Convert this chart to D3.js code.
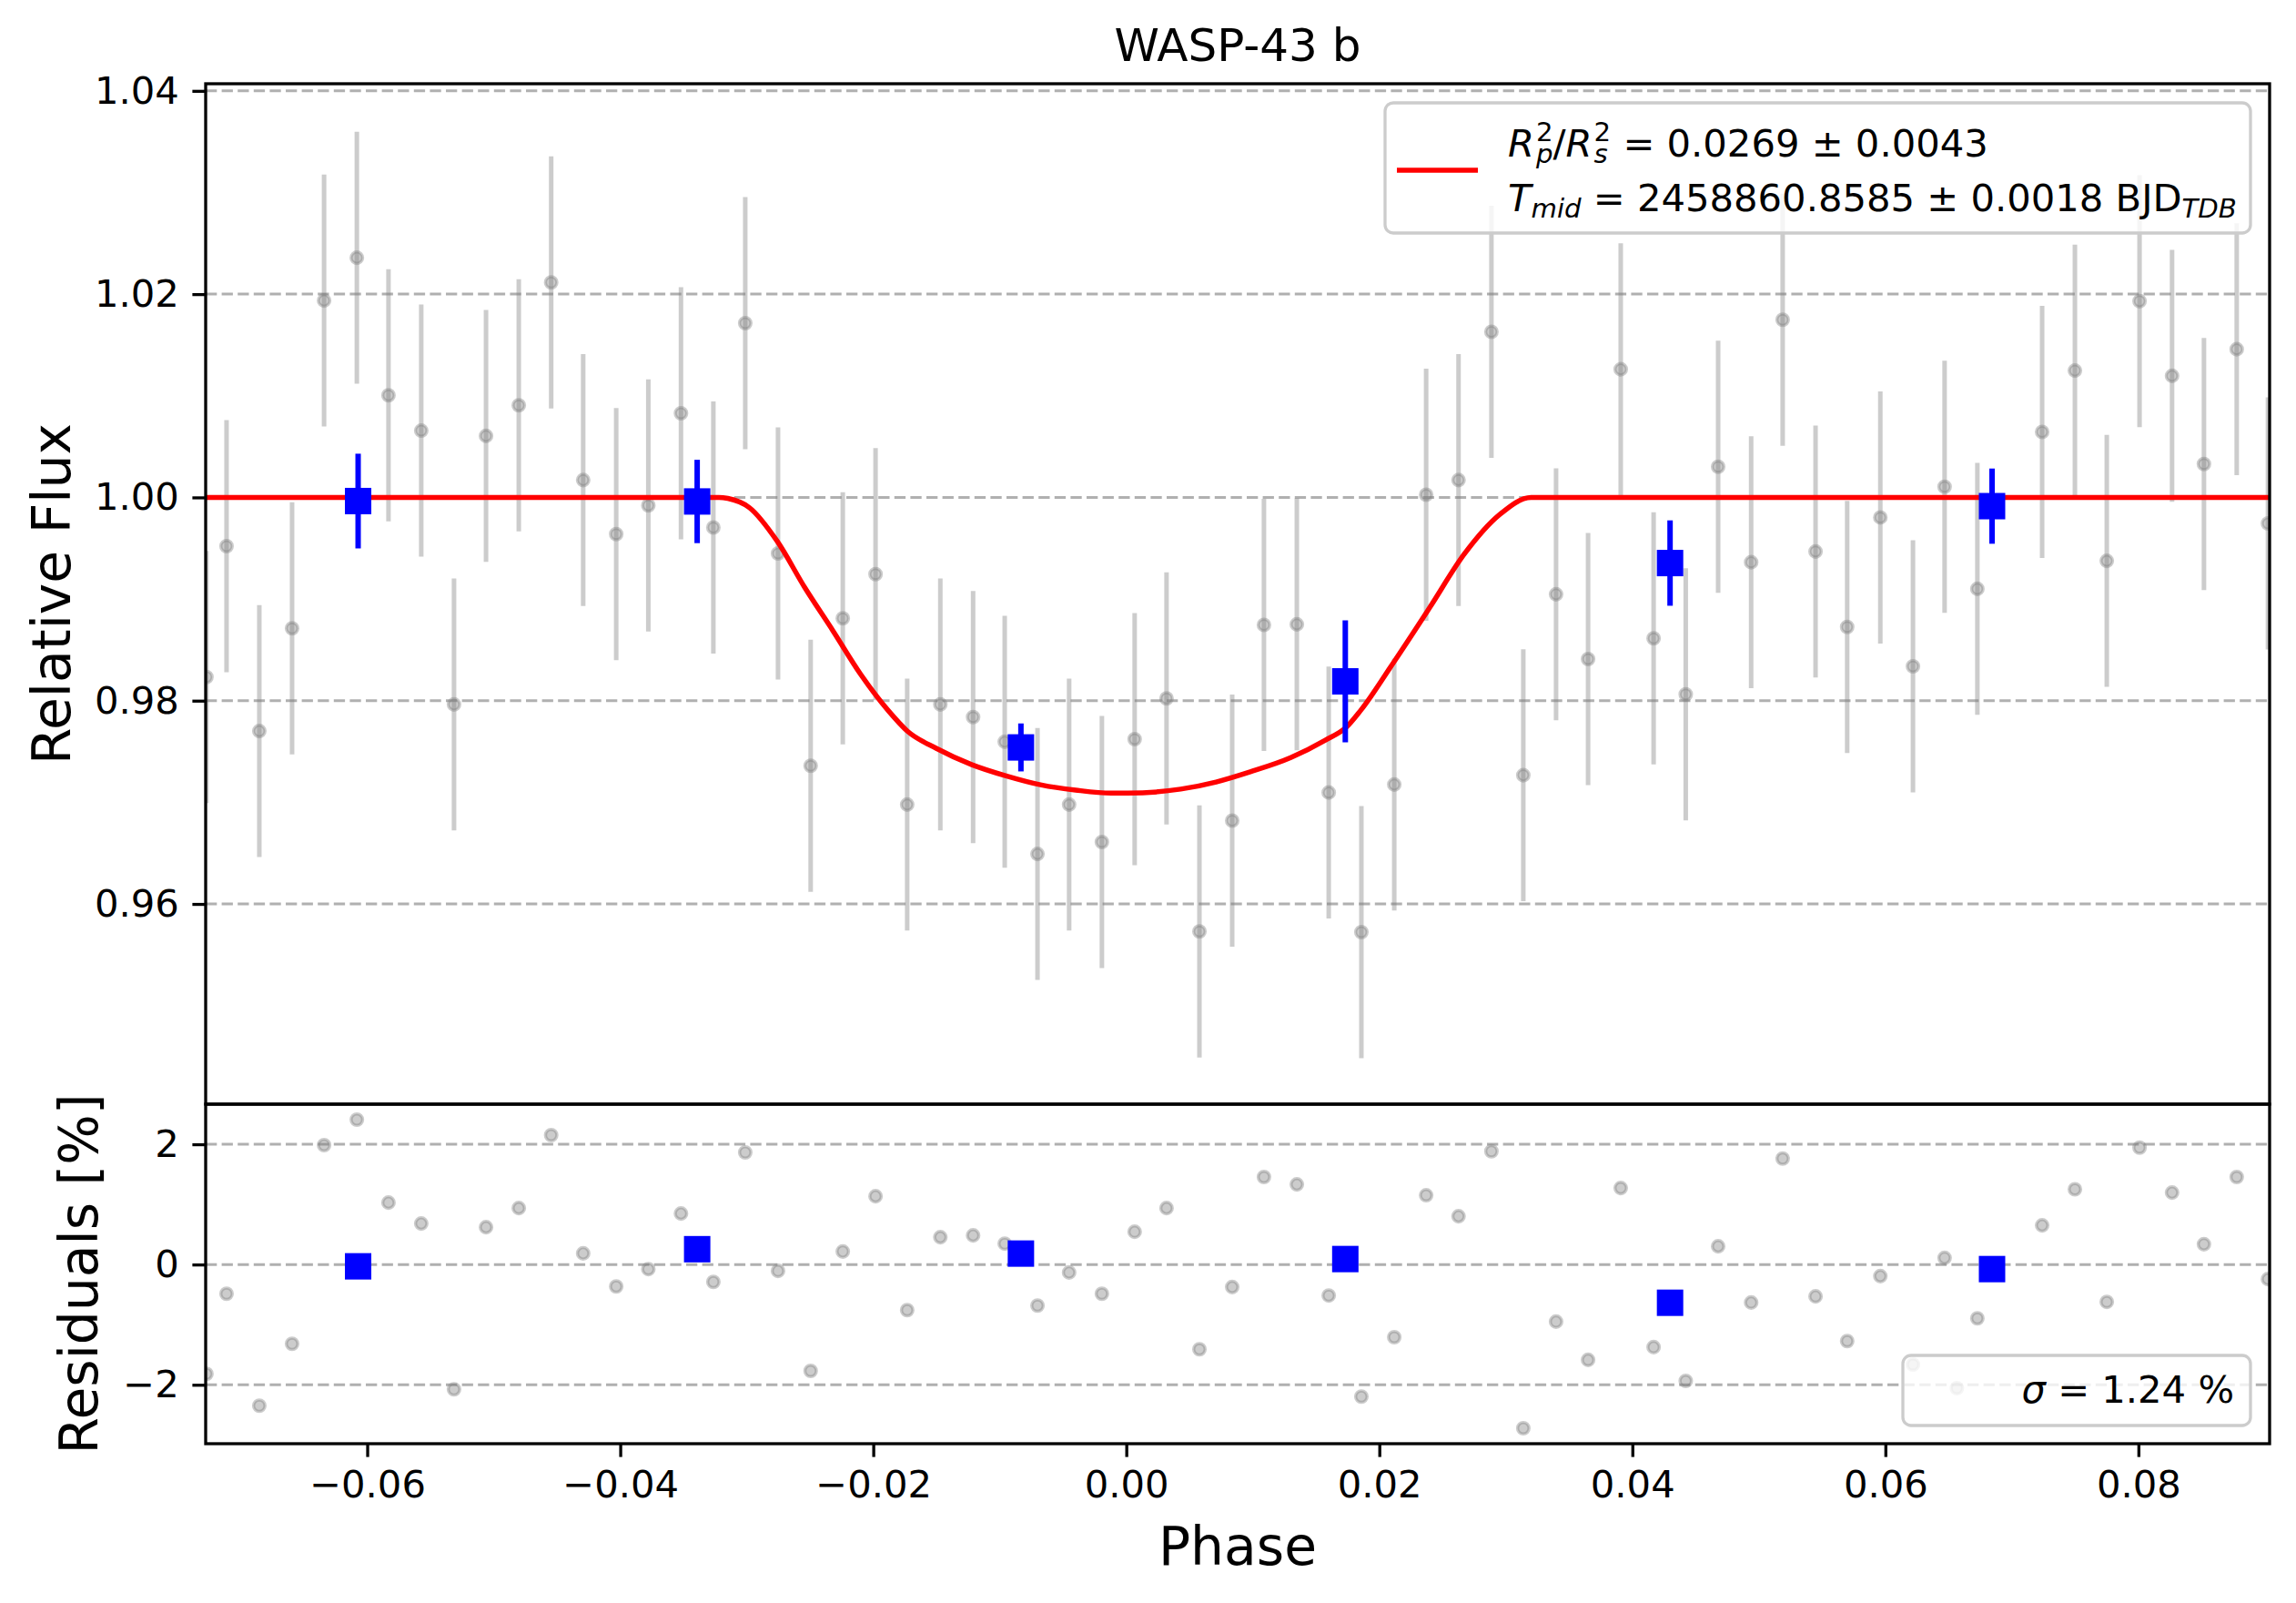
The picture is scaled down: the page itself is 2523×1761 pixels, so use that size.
<!DOCTYPE html>
<html>
<head>
<meta charset="utf-8">
<script src="https://cdn.jsdelivr.net/npm/d3@7"></script>
<style>
  body { margin: 0; background: #fff; }
  text { font-family: "DejaVu Sans", sans-serif; white-space: pre; }
</style>
</head>
<body>
<svg id="chart" width="2523" height="1761"></svg>
<script>
// unbinned phase / relative flux
const phase = [
  -0.07271, -0.07112, -0.06853, -0.06594, -0.06341, -0.06082, -0.05832, -0.05573,
  -0.05314, -0.05061, -0.04802, -0.04546, -0.04293, -0.04032, -0.03778, -0.03520,
  -0.03264, -0.03012, -0.02753, -0.02495, -0.02241, -0.01982, -0.01732, -0.01470,
  -0.01211, -0.00961, -0.00702, -0.00452, -0.00193, 0.00066, 0.00318, 0.00578,
  0.00837, 0.01088, 0.01348, 0.01600, 0.01858, 0.02118, 0.02370, 0.02626,
  0.02886, 0.03138, 0.03397, 0.03650, 0.03908, 0.04168, 0.04422, 0.04678,
  0.04939, 0.05188, 0.05448, 0.05698, 0.05960, 0.06218, 0.06468, 0.06727,
  0.07239, 0.07498, 0.07750, 0.08009, 0.08266, 0.08518, 0.08777, 0.09024
];
const flux = [
  0.98233, 0.99520, 0.97701, 0.98712, 1.01937, 1.02358, 1.01005, 1.00657,
  0.97963, 1.00605, 1.00906, 1.02115, 1.00171, 0.99639, 0.99921, 1.00828,
  0.99704, 1.01714, 0.99448, 0.97359, 0.98811, 0.99245, 0.96978, 0.97963,
  0.97839, 0.97596, 0.96492, 0.96978, 0.96610, 0.97622, 0.98022, 0.95730,
  0.96820, 0.98745, 0.98751, 0.97096, 0.95723, 0.97175, 1.00026, 1.00171,
  1.01629, 0.97267, 0.99047, 0.98410, 1.01261, 0.98613, 0.98062, 1.00302,
  0.99362, 1.01748, 0.99468, 0.98725, 0.99803, 0.98338, 1.00105, 0.99100,
  1.00644, 1.01248, 0.99376, 1.01931, 1.01196, 1.00329, 1.01458, 0.99744
];
// every unbinned point has the same error bar
const fluxErr = 0.0124;

// residuals [%]
const residPhase = [
  -0.07271, -0.07112, -0.06853, -0.06594, -0.06341, -0.06082, -0.05832, -0.05573,
  -0.05314, -0.05061, -0.04802, -0.04546, -0.04293, -0.04032, -0.03778, -0.03520,
  -0.03264, -0.03012, -0.02753, -0.02495, -0.02241, -0.01982, -0.01732, -0.01470,
  -0.01211, -0.00961, -0.00702, -0.00452, -0.00193, 0.00066, 0.00318, 0.00578,
  0.00837, 0.01088, 0.01348, 0.01600, 0.01858, 0.02118, 0.02370, 0.02626,
  0.02886, 0.03138, 0.03397, 0.03650, 0.03908, 0.04168, 0.04422, 0.04678,
  0.04939, 0.05188, 0.05448, 0.05698, 0.05960, 0.06218, 0.06468, 0.06565,
  0.06727, 0.07239, 0.07498, 0.07750, 0.08009, 0.08266, 0.08518, 0.08777, 0.09024
];
const resid = [
  -1.818, -0.485, -2.348, -1.318, 1.985, 2.409, 1.030, 0.682,
  -2.076, 0.621, 0.939, 2.152, 0.186, -0.364, -0.076, 0.848,
  -0.288, 1.864, -0.106, -1.768, 0.217, 1.136, -0.758, 0.455,
  0.485, 0.348, -0.682, -0.132, -0.485, 0.545, 0.939, -1.409,
  -0.374, 1.455, 1.333, -0.515, -2.197, -1.208, 1.152, 0.803,
  1.883, -2.723, -0.950, -1.586, 1.273, -1.374, -1.935, 0.303,
  -0.632, 1.762, -0.530, -1.273, -0.192, -1.662, 0.111, -2.056,
  -0.894, 0.652, 1.252, -0.621, 1.944, 1.197, 0.338, 1.455, -0.242
];

// binned points
const binPhase = [-0.06072, -0.03392, -0.00833, 0.01731, 0.04298, 0.06843];
const binFlux = [0.99964, 0.99960, 0.97540, 0.98190, 0.99354, 0.99914];
const binErr = [0.00466, 0.00410, 0.00236, 0.00600, 0.00420, 0.00370];
const binResid = [-0.03, 0.255, 0.182, 0.091, -0.636, -0.076];

// transit model
const modelPhase = [
  -0.07277, -0.0322, -0.0315, -0.0298, -0.0276, -0.0254, -0.0232, -0.0210,
  -0.0188, -0.0173, -0.0150, -0.0122, -0.0095, -0.0067, -0.0040, -0.0012,
  0.0001, 0.0043, 0.0071, 0.0098, 0.0130, 0.0157, 0.0174, 0.0185,
  0.0212, 0.0240, 0.0267, 0.0295, 0.0320, 0.09037
];
const modelFlux = [
  1.0, 1.0, 0.9999, 0.9990, 0.9957, 0.9911, 0.9869, 0.9826,
  0.9790, 0.9770, 0.9753, 0.9737, 0.9726, 0.9717, 0.9712, 0.9709,
  0.9709, 0.9713, 0.9720, 0.9730, 0.9744, 0.9761, 0.9774, 0.9790,
  0.9839, 0.9892, 0.9944, 0.9983, 1.0, 1.0
];

// axes
const xLim = [-0.07277, 0.09037];
const fluxLim = [0.9403, 1.0407];
const residLim = [-2.98, 2.667];
const xTicks = [-0.06, -0.04, -0.02, 0.0, 0.02, 0.04, 0.06, 0.08];
const fluxTicks = [0.96, 0.98, 1.0, 1.02, 1.04];
const residTicks = [-2, 0, 2];

// layout (px)
const axLeft = 226, axRight = 2494, axTop = 92, axMid = 1213, axBottom = 1586;
const tickFont = 41.7, labelFont = 58.3, lw = 3.3;

const svg = d3.select("#chart");
svg.append("rect").attr("width", 2523).attr("height", 1761).attr("fill", "#fff");

const x = d3.scaleLinear().domain(xLim).range([axLeft, axRight]);
const yFlux = d3.scaleLinear().domain(fluxLim).range([axMid, axTop]);
const yRes = d3.scaleLinear().domain(residLim).range([axBottom, axMid]);

const defs = svg.append("defs");
defs.append("clipPath").attr("id", "clipTop")
  .append("rect").attr("x", axLeft).attr("y", axTop)
  .attr("width", axRight - axLeft).attr("height", axMid - axTop);
defs.append("clipPath").attr("id", "clipRes")
  .append("rect").attr("x", axLeft).attr("y", axMid)
  .attr("width", axRight - axLeft).attr("height", axBottom - axMid);

// gridlines
function grid(ticks, y) {
  svg.append("g").selectAll("line").data(ticks).join("line")
    .attr("x1", axLeft).attr("x2", axRight)
    .attr("y1", (d) => y(d)).attr("y2", (d) => y(d))
    .attr("stroke", "#b0b0b0").attr("stroke-width", 3)
    .attr("stroke-dasharray", "12.3,5.3");
}
grid(fluxTicks, yFlux);
grid(residTicks, yRes);

// gray points: same colour with alpha for face and edge
function grayDots(g, data, y) {
  g.append("g").selectAll("circle").data(data).join("circle")
    .attr("cx", (d) => x(d[0])).attr("cy", (d) => y(d[1])).attr("r", 6.3)
    .attr("fill", "gray").attr("fill-opacity", 0.4)
    .attr("stroke", "gray").attr("stroke-opacity", 0.4).attr("stroke-width", 3.5);
}

// ---- top panel ----
const gTop = svg.append("g").attr("clip-path", "url(#clipTop)");
const pts = d3.zip(phase, flux);

gTop.append("g").selectAll("line").data(pts).join("line")
  .attr("x1", (d) => x(d[0])).attr("x2", (d) => x(d[0]))
  .attr("y1", (d) => yFlux(d[1] - fluxErr)).attr("y2", (d) => yFlux(d[1] + fluxErr))
  .attr("stroke", "gray").attr("stroke-opacity", 0.4).attr("stroke-width", 5);
grayDots(gTop, pts, yFlux);

const model = d3.line()
  .x((d) => x(d[0])).y((d) => yFlux(d[1]))
  .curve(d3.curveMonotoneX);
gTop.append("path").datum(d3.zip(modelPhase, modelFlux))
  .attr("d", model).attr("fill", "none")
  .attr("stroke", "#ff0000").attr("stroke-width", 5.5);

const bins = d3.zip(binPhase, binFlux, binErr);
gTop.append("g").selectAll("line").data(bins).join("line")
  .attr("x1", (d) => x(d[0])).attr("x2", (d) => x(d[0]))
  .attr("y1", (d) => yFlux(d[1] - d[2])).attr("y2", (d) => yFlux(d[1] + d[2]))
  .attr("stroke", "#0000ff").attr("stroke-width", 6);
gTop.append("g").selectAll("rect").data(bins).join("rect")
  .attr("x", (d) => x(d[0]) - 14.5).attr("y", (d) => yFlux(d[1]) - 14.5)
  .attr("width", 29).attr("height", 29).attr("fill", "#0000ff");

// ---- residual panel ----
const gRes = svg.append("g").attr("clip-path", "url(#clipRes)");
grayDots(gRes, d3.zip(residPhase, resid), yRes);
gRes.append("g").selectAll("rect").data(d3.zip(binPhase, binResid)).join("rect")
  .attr("x", (d) => x(d[0]) - 14.5).attr("y", (d) => yRes(d[1]) - 14.5)
  .attr("width", 29).attr("height", 29).attr("fill", "#0000ff");

// ---- axes ----
function styleAxis(g) {
  g.select(".domain").remove();
  g.attr("font-family", null).attr("font-size", null);
  g.selectAll(".tick line").attr("stroke", "#000").attr("stroke-width", lw);
  g.selectAll(".tick text").attr("fill", "#000").attr("font-size", tickFont);
}

svg.append("g").attr("transform", `translate(${axLeft},0)`)
  .call(d3.axisLeft(yFlux).tickValues(fluxTicks).tickFormat(d3.format(".2f"))
    .tickSize(14.6).tickPadding(14.6).tickSizeOuter(0))
  .call(styleAxis);
svg.append("g").attr("transform", `translate(${axLeft},0)`)
  .call(d3.axisLeft(yRes).tickValues(residTicks).tickFormat(d3.format("d"))
    .tickSize(14.6).tickPadding(14.6).tickSizeOuter(0))
  .call(styleAxis);
svg.append("g").attr("transform", `translate(0,${axBottom})`)
  .call(d3.axisBottom(x).tickValues(xTicks).tickFormat(d3.format(".2f"))
    .tickSize(14.6).tickPadding(14.6).tickSizeOuter(0))
  .call(styleAxis);

// spines
[[axTop, axMid], [axMid, axBottom]].forEach(([y0, y1]) => {
  svg.append("rect").attr("x", axLeft).attr("y", y0)
    .attr("width", axRight - axLeft).attr("height", y1 - y0)
    .attr("fill", "none").attr("stroke", "#000").attr("stroke-width", lw);
});

// titles
const cx = (axLeft + axRight) / 2;
svg.append("text").attr("x", cx).attr("y", 67)
  .attr("text-anchor", "middle").attr("font-size", 50).text("WASP-43 b");
svg.append("text").attr("x", cx).attr("y", 1719)
  .attr("text-anchor", "middle").attr("font-size", labelFont).text("Phase");
svg.append("text").attr("transform", `translate(77,${(axTop + axMid) / 2}) rotate(-90)`)
  .attr("text-anchor", "middle").attr("font-size", labelFont).text("Relative Flux");
svg.append("text").attr("transform", `translate(107,${(axMid + axBottom) / 2}) rotate(-90)`)
  .attr("text-anchor", "middle").attr("font-size", labelFont).text("Residuals [%]");

// ---- legends ----
// one text per line; sub/superscripts stacked at the same x via absolute tspans
function mathLine(g, x0, y0, parts) {
  const text = g.append("text");
  let px = x0;
  parts.forEach((p) => {
    const items = p.stack || [p];
    let w = 0;
    items.forEach((it) => {
      const t = text.append("tspan")
        .attr("x", px).attr("y", y0 + (it.dy || 0))
        .attr("font-size", it.small ? 29.2 : tickFont)
        .attr("font-style", it.it ? "italic" : "normal")
        .text(it.t);
      w = Math.max(w, t.node().getComputedTextLength());
    });
    px += w + (p.gap || 0);
  });
}

const leg = svg.append("g");
leg.append("rect").attr("x", 1522).attr("y", 113).attr("width", 951).attr("height", 143)
  .attr("rx", 9).attr("fill", "#fff").attr("fill-opacity", 0.8)
  .attr("stroke", "#cccccc").attr("stroke-width", 3.3);
leg.append("line").attr("x1", 1535).attr("x2", 1624).attr("y1", 187).attr("y2", 187)
  .attr("stroke", "#ff0000").attr("stroke-width", 5.5);
mathLine(leg, 1657, 172, [
  { t: "R", it: true, gap: 2 },
  { stack: [{ t: "2", small: true, dy: -17 }, { t: "p", it: true, small: true, dy: 7 }] },
  { t: "/" },
  { t: "R", it: true, gap: 2 },
  { stack: [{ t: "2", small: true, dy: -17 }, { t: "s", it: true, small: true, dy: 7 }] },
  { t: " = 0.0269 ± 0.0043" }
]);
mathLine(leg, 1657, 232, [
  { t: "T", it: true },
  { t: "mid", it: true, small: true, dy: 7 },
  { t: " = 2458860.8585 ± 0.0018 BJD" },
  { t: "TDB", it: true, small: true, dy: 7 }
]);

const leg2 = svg.append("g");
leg2.append("rect").attr("x", 2091).attr("y", 1489).attr("width", 382).attr("height", 77)
  .attr("rx", 9).attr("fill", "#fff").attr("fill-opacity", 0.8)
  .attr("stroke", "#cccccc").attr("stroke-width", 3.3);
const sig = leg2.append("text").attr("x", 2455).attr("y", 1541)
  .attr("text-anchor", "end").attr("font-size", tickFont);
sig.append("tspan").attr("font-style", "italic").text("σ");
sig.append("tspan").text(" = 1.24 %");
</script>
</body>
</html>
